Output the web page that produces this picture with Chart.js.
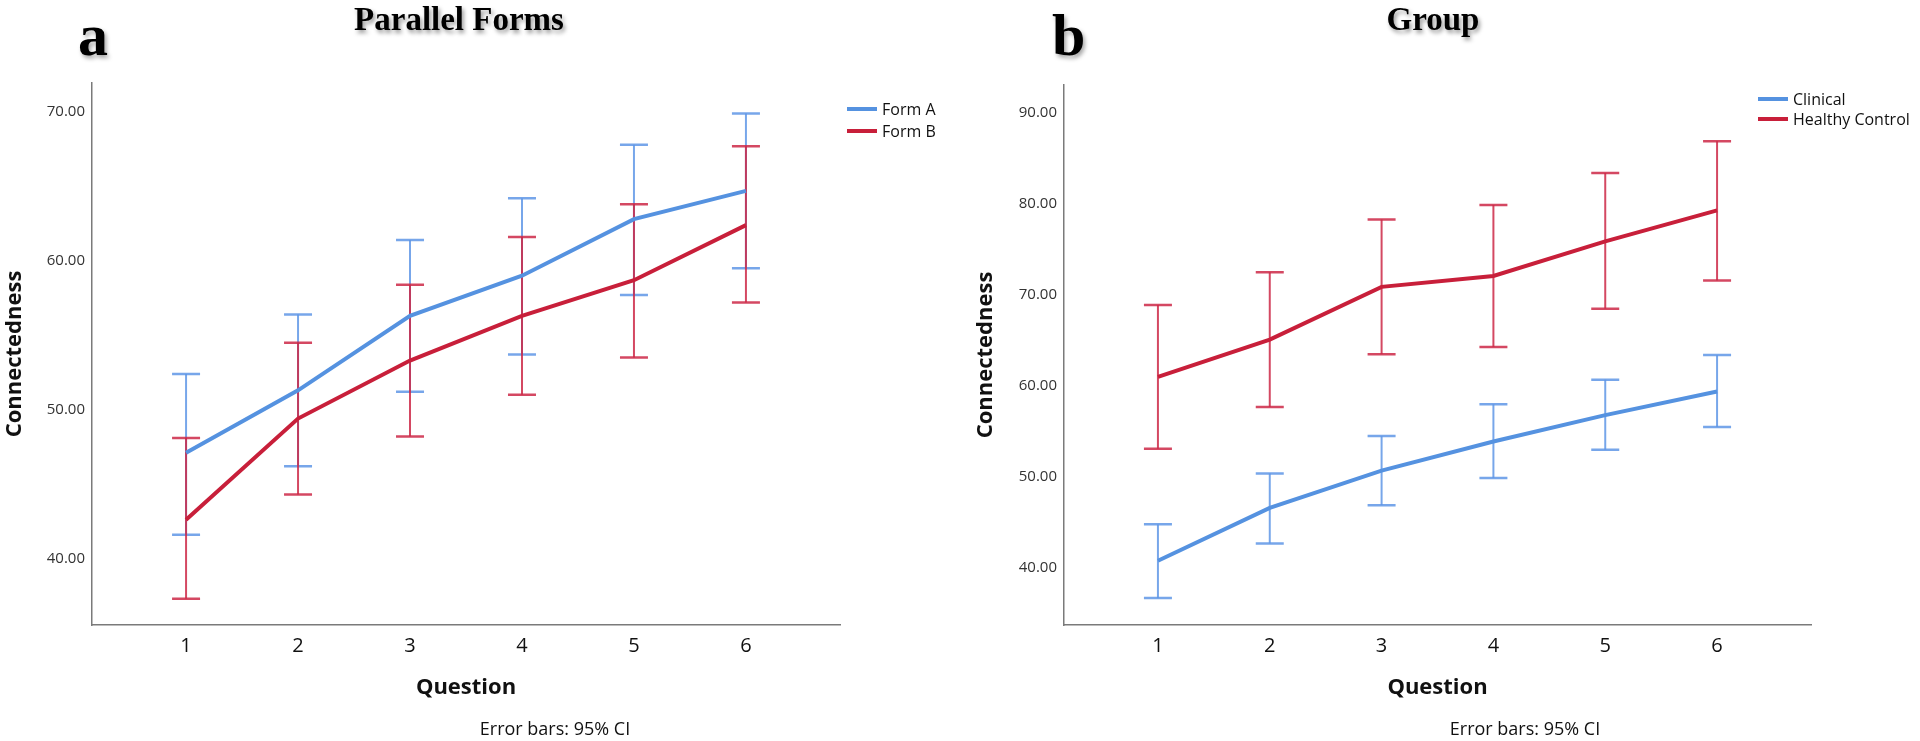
<!DOCTYPE html>
<html>
<head>
<meta charset="utf-8">
<script src="https://cdn.jsdelivr.net/npm/chart.js@4/dist/chart.umd.min.js"></script>
<style>
html,body{margin:0;padding:0;background:#fff;}
body{width:1920px;height:741px;position:relative;overflow:hidden;font-family:"Open Sans",sans-serif;}
canvas.cv{position:absolute;top:0;}
.letter{position:absolute;font-family:"Liberation Serif","Times New Roman",serif;font-weight:bold;font-size:60px;line-height:60px;color:#000;text-shadow:2px 3px 4px rgba(0,0,0,0.35);}
.title{position:absolute;font-family:"Liberation Serif","Times New Roman",serif;font-weight:bold;font-size:33px;line-height:33px;transform:translateX(-50%);white-space:nowrap;color:#000;text-shadow:2px 3px 4px rgba(0,0,0,0.4);}
.note{position:absolute;font-size:18px;line-height:20px;transform:translateX(-50%);white-space:nowrap;color:#111;}
.legend{position:absolute;font-size:16px;color:#111;}
.legend .item{display:flex;align-items:center;white-space:nowrap;}
.legend .sw{width:30px;height:4px;margin-right:5px;}
</style>
</head>
<body>
<canvas id="left" class="cv" width="960" height="741" style="left:0"></canvas>
<canvas id="right" class="cv" width="960" height="741" style="left:960px"></canvas>

<div class="letter" style="left:78px;top:5px;">a</div>
<div class="letter" style="left:1052px;top:5px;">b</div>
<div class="title" style="left:459px;top:3px;">Parallel Forms</div>
<div class="title" style="left:1433px;top:3px;">Group</div>
<div class="note" style="left:555px;top:718px;">Error bars: 95% CI</div>
<div class="note" style="left:1525px;top:718px;">Error bars: 95% CI</div>

<div class="legend" id="legLeft" style="left:847px;top:98px;"></div>
<div class="legend" id="legRight" style="left:1758px;top:89px;"></div>

<script>
// ---- data ----
const questions = ['1', '2', '3', '4', '5', '6'];

const formAMean = [47.1, 51.3, 56.3, 59.0, 62.8, 64.7];
const formALow  = [41.6, 46.2, 51.2, 53.7, 57.7, 59.5];
const formAHigh = [52.4, 56.4, 61.4, 64.2, 67.8, 69.9];

const formBMean = [42.6, 49.4, 53.3, 56.3, 58.7, 62.4];
const formBLow  = [37.3, 44.3, 48.2, 51.0, 53.5, 57.2];
const formBHigh = [48.1, 54.5, 58.4, 61.6, 63.8, 67.7];

const clinicalMean = [40.8, 46.6, 50.7, 53.9, 56.8, 59.4];
const clinicalLow  = [36.7, 42.7, 46.9, 49.9, 53.0, 55.5];
const clinicalHigh = [44.8, 50.4, 54.5, 58.0, 60.7, 63.4];

const healthyMean = [61.0, 65.1, 70.9, 72.1, 75.9, 79.3];
const healthyLow  = [53.1, 57.7, 63.5, 64.3, 68.5, 71.6];
const healthyHigh = [68.9, 72.5, 78.3, 79.9, 83.4, 86.9];

const leftYTicks = [40, 50, 60, 70];
const rightYTicks = [40, 50, 60, 70, 80, 90];

const leftLegend = ['Form A', 'Form B'];
const rightLegend = ['Clinical', 'Healthy Control'];

// ---- styles ----
const BLUE = '#5592e0';
const BLUE_ERR = 'rgba(95,150,230,0.85)';
const RED = '#c81f3a';
const RED_ERR = 'rgba(205,40,70,0.85)';
const FONT = '"Open Sans", sans-serif';
Chart.defaults.font.family = FONT;

const errorBarPlugin = {
  id: 'errorBars',
  beforeDatasetsDraw(chart) {
    const ctx = chart.ctx, xs = chart.scales.x, ys = chart.scales.y;
    ctx.save();
    chart.data.datasets.forEach(ds => {
      ctx.strokeStyle = ds.errColor;
      ds.errLow.forEach((lo, i) => {
        const px = xs.getPixelForValue(i + 1);
        const pLo = ys.getPixelForValue(lo);
        const pHi = ys.getPixelForValue(ds.errHigh[i]);
        ctx.lineWidth = 2;
        ctx.beginPath();
        ctx.moveTo(px, pLo); ctx.lineTo(px, pHi);
        ctx.stroke();
        ctx.lineWidth = 2.5;
        ctx.beginPath();
        ctx.moveTo(px - 14, pLo); ctx.lineTo(px + 14, pLo);
        ctx.moveTo(px - 14, pHi); ctx.lineTo(px + 14, pHi);
        ctx.stroke();
      });
    });
    ctx.restore();
  }
};

function series(label, mean, low, high, color, errColor) {
  return {
    label: label,
    data: mean.map((v, i) => ({x: i + 1, y: v})),
    borderColor: color,
    backgroundColor: color,
    borderWidth: 4,
    pointRadius: 0,
    tension: 0,
    fill: false,
    errLow: low,
    errHigh: high,
    errColor: errColor
  };
}

function makeChart(id, datasets, yMin, yMax, yTicks, cfg) {
  return new Chart(document.getElementById(id), {
    type: 'line',
    data: {datasets: datasets},
    plugins: [errorBarPlugin],
    options: {
      responsive: false,
      animation: false,
      layout: {padding: {top: cfg.top, right: cfg.right, left: 0, bottom: 0}},
      plugins: {legend: {display: false}, tooltip: {enabled: false}},
      scales: {
        x: {
          type: 'linear',
          min: 0.16, max: 6.84,
          afterBuildTicks: s => { s.ticks = questions.map((q, i) => ({value: i + 1})); },
          afterFit: s => { s.height = 116; },
          ticks: {
            callback: v => questions[Math.round(v) - 1],
            font: {size: 20}, color: '#111', padding: 9, maxRotation: 0, autoSkip: false
          },
          grid: {display: true, color: 'rgba(0,0,0,0)', drawTicks: false},
          border: {display: true, color: '#7a7a7a', width: 1.5},
          title: {display: true, text: 'Question', color: '#111',
                  font: {size: 22, weight: 'bold'}, padding: {top: 0, bottom: 40}}
        },
        y: {
          min: yMin, max: yMax,
          afterBuildTicks: s => { s.ticks = yTicks.map(v => ({value: v})); },
          afterFit: s => { s.width = cfg.yWidth; },
          ticks: {
            callback: v => Number(v).toFixed(2),
            font: {size: 15}, color: '#333', padding: 7
          },
          grid: {display: true, color: 'rgba(0,0,0,0)', drawTicks: false},
          border: {display: true, color: '#7a7a7a', width: 1.5},
          title: {display: true, text: 'Connectedness', color: '#111',
                  font: {size: 22, weight: 'bold'}, padding: {top: cfg.titlePad, bottom: 0}}
        }
      }
    }
  });
}

makeChart('left', [
  series(leftLegend[0], formAMean, formALow, formAHigh, BLUE, BLUE_ERR),
  series(leftLegend[1], formBMean, formBLow, formBHigh, RED, RED_ERR)
], 35.53, 71.95, leftYTicks, {top: 83, right: 120, yWidth: 92, titlePad: 2});

makeChart('right', [
  series(rightLegend[0], clinicalMean, clinicalLow, clinicalHigh, BLUE, BLUE_ERR),
  series(rightLegend[1], healthyMean, healthyLow, healthyHigh, RED, RED_ERR)
], 33.74, 93.08, rightYTicks, {top: 85, right: 109, yWidth: 104, titlePad: 13});

function buildLegend(el, labels, colors, h) {
  labels.forEach((t, i) => {
    const it = document.createElement('div');
    it.className = 'item';
    it.style.height = h + 'px';
    const sw = document.createElement('span');
    sw.className = 'sw';
    sw.style.background = colors[i];
    const tx = document.createElement('span');
    tx.textContent = t;
    it.appendChild(sw); it.appendChild(tx);
    el.appendChild(it);
  });
}
buildLegend(document.getElementById('legLeft'), leftLegend, [BLUE, RED], 22);
buildLegend(document.getElementById('legRight'), rightLegend, [BLUE, RED], 20);
</script>
</body>
</html>
